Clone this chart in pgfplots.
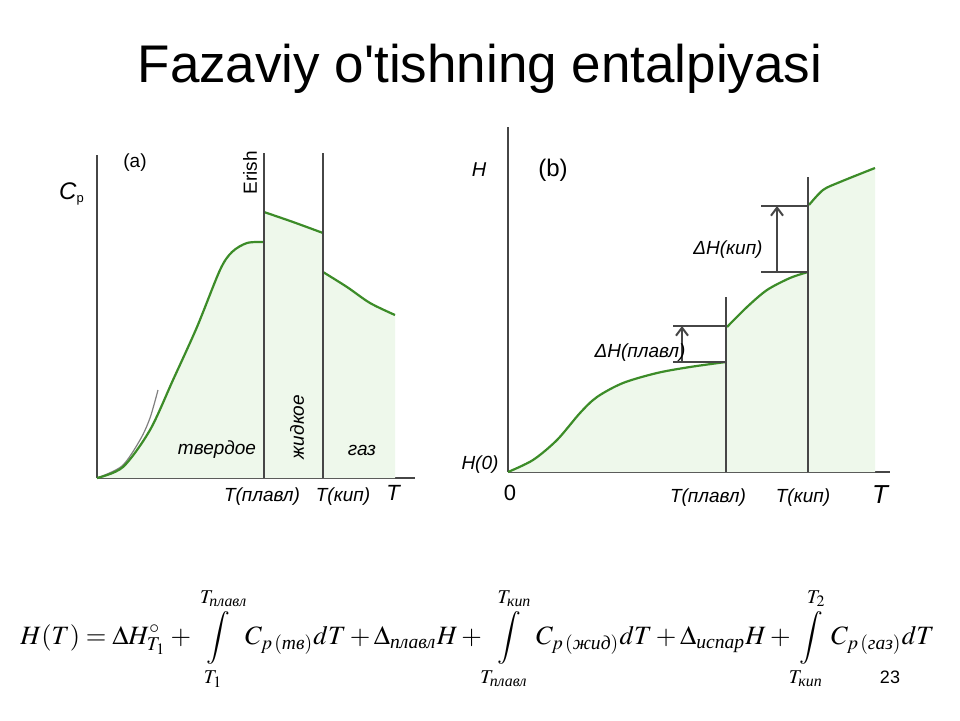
\documentclass[border=0pt]{standalone}
\usepackage{amsmath}
\usepackage{mathptmx}
\usepackage{fontspec}
\setmainfont{Liberation Sans}
\newfontfamily\titlef{Liberation Sans}
\newfontfamily\serifcyr{Liberation Serif}
\usepackage{pgfplots}
\pgfplotsset{compat=1.18}
\usetikzlibrary{arrows.meta}
\definecolor{lg}{RGB}{60,140,40}
\definecolor{fg}{RGB}{238,248,235}
\definecolor{ax}{RGB}{70,70,70}
\newcommand\cy[1]{\text{\serifcyr\itshape #1}}
\newcommand\up[1]{\raisebox{1pt}{$\scriptstyle #1$}}
\newcommand\dn[1]{\raisebox{-1.5pt}{$\scriptstyle #1$}}
\pgfplotsset{sch/.style={scale only axis, axis lines=left,
  axis line style={ax, line width=1.1pt, -}, xtick=\empty, ytick=\empty,
  clip=false, anchor=south west},
  crv/.style={lg, line width=1.1pt, smooth, tension=0.5},
  fil/.style={fill=fg, draw=none, smooth, tension=0.5},
  vl/.style={ax, line width=1pt}}
\newcommand\lab{\fontsize{9.5}{11}\selectfont}
\begin{document}
\begin{tikzpicture}
\fill[white] (0,0) rectangle (480pt,360pt);
\node[font=\titlef\fontsize{26.5}{30}\selectfont] at (240pt,325.5pt) {Fazaviy o'tishning entalpiyasi};
% ---------- panel (a)
\begin{axis}[sch, at={(48.5pt,121pt)}, width=159pt, height=161.5pt,
  xmin=0, xmax=318, ymin=0, ymax=323]
\addplot[fil] coordinates {(0,0)(26,11)(53,48)(76,98)(100,151)(123,208)(135,226)(150,235)(167,236)} \closedcycle;
\addplot[fil] coordinates {(167,266)(196,256)(226,245)} \closedcycle;
\addplot[fil] coordinates {(226,206)(250,191)(273,175)(298,163)} \closedcycle;
\addplot[gray, line width=0.6pt, smooth] coordinates {(0,0)(25,12)(43,38)(53,60)(61,88)};
\addplot[crv] coordinates {(0,0)(26,11)(53,48)(76,98)(100,151)(123,208)(135,226)(150,235)(167,236)};
\addplot[crv] coordinates {(167,266)(196,256)(226,245)};
\addplot[crv] coordinates {(226,206)(250,191)(273,175)(298,163)};
\addplot[vl] coordinates {(167,0)(167,325)};
\addplot[vl] coordinates {(226,0)(226,325)};
\node[font=\lab] at (axis cs:38,315) {(a)};
\node[font=\fontsize{12}{14}\selectfont\itshape] at (axis cs:-25,284) {C\textsubscript{\upshape\fontsize{6.5}{7}\selectfont p}};
\node[font=\lab, rotate=90] at (axis cs:153,305) {Erish};
\node[font=\lab\itshape, rotate=90] at (axis cs:200,51) {жидкое};
\node[font=\lab\itshape] at (axis cs:120,28) {твердое};
\node[font=\lab\itshape] at (axis cs:265,28) {газ};
\node[font=\lab\itshape] at (axis cs:165,-19) {T(плавл)};
\node[font=\lab\itshape] at (axis cs:246,-19) {T(кип)};
\node[font=\fontsize{11}{12}\selectfont\itshape] at (axis cs:296,-15) {T};
\end{axis}
% ---------- panel (b)
\begin{axis}[sch, at={(254pt,124pt)}, width=191pt, height=172.5pt,
  xmin=0, xmax=382, ymin=0, ymax=345]
\addplot[fil] coordinates {(0,0)(25,12)(49,32)(72,59)(89,75)(115,89)(149,99)(182,105)(218,110)} \closedcycle;
\addplot[fil] coordinates {(218,145)(239,165)(259,182)(282,194)(300,200)} \closedcycle;
\addplot[fil] coordinates {(300,267)(315,282)(332,290)(367,304)} \closedcycle;
\addplot[crv] coordinates {(0,0)(25,12)(49,32)(72,59)(89,75)(115,89)(149,99)(182,105)(218,110)};
\addplot[crv] coordinates {(219,145)(239,165)(259,182)(282,194)(300,200)};
\addplot[crv] coordinates {(301,267)(315,282)(332,290)(367,304)};
\addplot[vl] coordinates {(218,0)(218,175)};
\addplot[vl] coordinates {(300,0)(300,295)};
\addplot[vl] coordinates {(165,146)(218,146)};
\addplot[vl] coordinates {(165,110)(218,110)};
\addplot[vl] coordinates {(253,266)(300,266)};
\addplot[vl] coordinates {(253,200)(300,200)};
\addplot[vl, -{Straight Barb[length=4pt,width=6pt]}] coordinates {(174,110)(174,146)};
\addplot[vl, -{Straight Barb[length=4pt,width=6pt]}] coordinates {(269,200)(269,266)};
\node[font=\fontsize{10}{12}\selectfont\itshape] at (axis cs:-29,302) {H};
\node[font=\fontsize{12}{14}\selectfont] at (axis cs:45,302) {(b)};
\node[font=\lab\itshape] at (axis cs:-28,7) {H(0)};
\node[font=\fontsize{11}{12}\selectfont] at (axis cs:2,-21) {0};
\node[font=\lab\itshape] at (axis cs:200,-26) {T(плавл)};
\node[font=\lab\itshape] at (axis cs:295,-26) {T(кип)};
\node[font=\fontsize{13}{14}\selectfont\itshape] at (axis cs:372,-23) {T};
\node[font=\lab\itshape] at (axis cs:220,222) {ΔH(кип)};
\node[font=\lab\itshape] at (axis cs:132,119) {ΔH(плавл)};
\end{axis}
% ---------- formula
\node at (238.75pt,40.5pt) {\resizebox{457pt}{!}{$\displaystyle
H(T)=\Delta H^{\circ}_{T_1}+\int\limits_{\dn{T_1}}^{\up{T_{\cy{плавл}}}}C_{p\,(\cy{тв})}dT+\Delta_{\cy{плавл}}H+\int\limits_{\dn{T_{\cy{плавл}}}}^{\up{T_{\cy{кип}}}}C_{p\,(\cy{жид})}dT+\Delta_{\cy{испар}}H+\int\limits_{\dn{T_{\cy{кип}}}}^{\up{T_2}}C_{p\,(\cy{газ})}dT$}};
\node[font=\fontsize{9}{10}\selectfont] at (445pt,21.5pt) {23};
\end{tikzpicture}
\end{document}
